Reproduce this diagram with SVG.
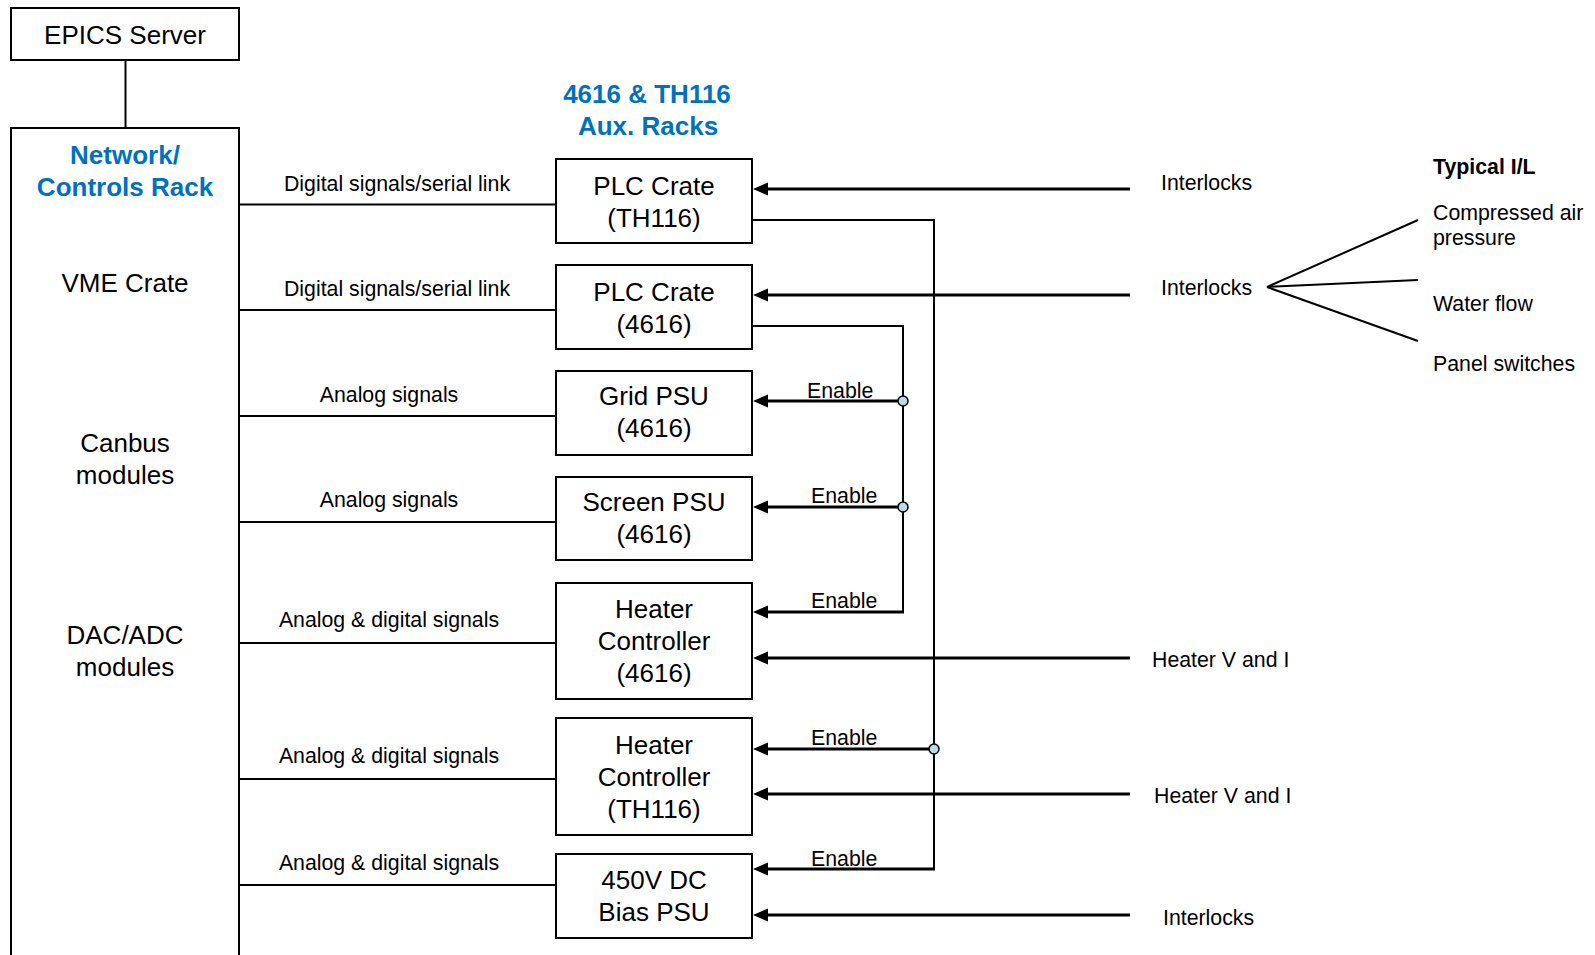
<svg xmlns="http://www.w3.org/2000/svg" width="1595" height="955" viewBox="0 0 1595 955">
<style>
.box{fill:#fff;stroke:#000;stroke-width:2}
.t{font-family:"Liberation Sans",Arial,sans-serif;fill:#000}
.big{font-size:26px;text-anchor:middle}
.lbl{font-size:21.3px}
.mid{text-anchor:middle}
.blue{font-weight:bold;fill:#0070C0;font-size:26px;text-anchor:middle}
.thin{stroke:#000;stroke-width:2;fill:none}
.arr{stroke:#000;stroke-width:3;fill:none;marker-end:url(#ah)}
.jn{fill:#b9dde3;stroke:#000;stroke-width:1.5}
</style>
<defs>
<marker id="ah" markerUnits="userSpaceOnUse" markerWidth="16" markerHeight="14" refX="8" refY="6.5" orient="auto" viewBox="0 0 16 14">
<path d="M0,0 L15,6.5 L0,13 z" fill="#000"/>
</marker>
</defs>

<g id="epics">
<rect class="box" x="11" y="8" width="228" height="52"/>
<text class="t big" x="125" y="44">EPICS Server</text>
</g>

<g id="rack">
<path class="thin" d="M11,970 V128 H239 V970" fill="#fff"/>
<text class="t blue" x="125" y="164">Network/</text>
<text class="t blue" x="125" y="196">Controls Rack</text>
<text class="t big" x="125" y="292">VME Crate</text>
<text class="t big" x="125" y="452">Canbus</text>
<text class="t big" x="125" y="484">modules</text>
<text class="t big" x="125" y="644">DAC/ADC</text>
<text class="t big" x="125" y="676">modules</text>
</g>

<g id="aux-title">
<text class="t blue" x="647" y="103">4616 &amp; TH116</text>
<text class="t blue" x="648" y="135">Aux. Racks</text>
</g>

<g id="plc-th116">
<rect class="box" x="556" y="159" width="196" height="84"/>
<text class="t big" x="654" y="195">PLC Crate</text>
<text class="t big" x="654" y="227">(TH116)</text>
</g>
<g id="plc-4616">
<rect class="box" x="556" y="265" width="196" height="84"/>
<text class="t big" x="654" y="301">PLC Crate</text>
<text class="t big" x="654" y="333">(4616)</text>
</g>
<g id="grid-psu">
<rect class="box" x="556" y="371" width="196" height="84"/>
<text class="t big" x="654" y="405">Grid PSU</text>
<text class="t big" x="654" y="437">(4616)</text>
</g>
<g id="screen-psu">
<rect class="box" x="556" y="477" width="196" height="83"/>
<text class="t big" x="654" y="511">Screen PSU</text>
<text class="t big" x="654" y="543">(4616)</text>
</g>
<g id="heater-4616">
<rect class="box" x="556" y="583" width="196" height="116"/>
<text class="t big" x="654" y="618">Heater</text>
<text class="t big" x="654" y="650">Controller</text>
<text class="t big" x="654" y="682">(4616)</text>
</g>
<g id="heater-th116">
<rect class="box" x="556" y="718" width="196" height="117"/>
<text class="t big" x="654" y="754">Heater</text>
<text class="t big" x="654" y="786">Controller</text>
<text class="t big" x="654" y="818">(TH116)</text>
</g>
<g id="bias-psu">
<rect class="box" x="556" y="854" width="196" height="84"/>
<text class="t big" x="654" y="889">450V DC</text>
<text class="t big" x="654" y="921">Bias PSU</text>
</g>

<g id="typical-il">
<text class="t lbl" x="1433" y="174" font-weight="bold">Typical I/L</text>
<text class="t lbl" x="1433" y="220">Compressed air</text>
<text class="t lbl" x="1433" y="245">pressure</text>
<text class="t lbl" x="1433" y="311">Water flow</text>
<text class="t lbl" x="1433" y="371">Panel switches</text>
</g>

<g id="connectors">
<line class="thin" x1="125.5" y1="60" x2="125.5" y2="128"/>
<line class="thin" x1="239" y1="204.5" x2="556" y2="204.5"/>
<line class="thin" x1="239" y1="310" x2="556" y2="310"/>
<line class="thin" x1="239" y1="416" x2="556" y2="416"/>
<line class="thin" x1="239" y1="522" x2="556" y2="522"/>
<line class="thin" x1="239" y1="643" x2="556" y2="643"/>
<line class="thin" x1="239" y1="779" x2="556" y2="779"/>
<line class="thin" x1="239" y1="885" x2="556" y2="885"/>
<text class="t lbl mid" x="397" y="191">Digital signals/serial link</text>
<text class="t lbl mid" x="397" y="296">Digital signals/serial link</text>
<text class="t lbl mid" x="389" y="402">Analog signals</text>
<text class="t lbl mid" x="389" y="507">Analog signals</text>
<text class="t lbl mid" x="389" y="627">Analog &amp; digital signals</text>
<text class="t lbl mid" x="389" y="763">Analog &amp; digital signals</text>
<text class="t lbl mid" x="389" y="870">Analog &amp; digital signals</text>

<line class="arr" x1="1130" y1="189" x2="760" y2="189"/>
<line class="arr" x1="1130" y1="295" x2="760" y2="295"/>
<line class="arr" x1="1130" y1="658" x2="760" y2="658"/>
<line class="arr" x1="1130" y1="794" x2="760" y2="794"/>
<line class="arr" x1="1130" y1="915" x2="760" y2="915"/>
<text class="t lbl" x="1161" y="190">Interlocks</text>
<text class="t lbl" x="1161" y="295">Interlocks</text>
<text class="t lbl" x="1152" y="667">Heater V and I</text>
<text class="t lbl" x="1154" y="803">Heater V and I</text>
<text class="t lbl" x="1163" y="925">Interlocks</text>

<polyline class="thin" points="1418,220 1267,287 1418,280"/>
<line class="thin" x1="1267" y1="287" x2="1418" y2="341"/>

<polyline class="thin" points="752,220 934,220 934,869"/>
<polyline class="thin" points="752,326 903,326 903,612"/>
<line class="arr" x1="903" y1="401" x2="760" y2="401"/>
<line class="arr" x1="903" y1="507" x2="760" y2="507"/>
<line class="arr" x1="904" y1="612" x2="760" y2="612"/>
<line class="arr" x1="934" y1="749" x2="760" y2="749"/>
<line class="arr" x1="935" y1="869" x2="760" y2="869"/>
<circle class="jn" cx="903" cy="401" r="5"/>
<circle class="jn" cx="903" cy="507" r="5"/>
<circle class="jn" cx="934" cy="749" r="5"/>
<text class="t lbl" x="807" y="398">Enable</text>
<text class="t lbl" x="811" y="503">Enable</text>
<text class="t lbl" x="811" y="608">Enable</text>
<text class="t lbl" x="811" y="745">Enable</text>
<text class="t lbl" x="811" y="866">Enable</text>
</g>
</svg>
